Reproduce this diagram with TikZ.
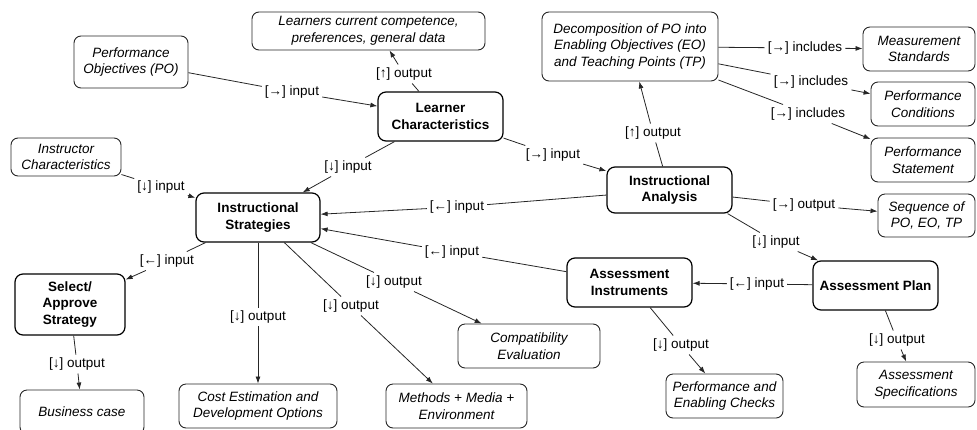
\documentclass[tikz,border=0pt]{standalone}
\usepackage{fontspec}
\setmainfont{Liberation Sans}
\usetikzlibrary{arrows.meta}

\begin{document}
\begin{tikzpicture}[x=1pt,y=-1pt,
  txt/.style={font=\fontsize{13.5}{16.5}\selectfont, align=center},
  mainbox/.style={txt, draw=black, line width=1.2pt, rounded corners=8pt,
    font=\fontsize{13.5}{16.5}\selectfont\bfseries, inner sep=0pt},
  infobox/.style={txt, draw=black!85, line width=0.9pt, rounded corners=7pt,
    font=\fontsize{13.5}{16.5}\selectfont\itshape, inner sep=0pt},
  tag/.style={txt, inner sep=3pt},
  link/.style={draw=black!85, line width=0.8pt},
  arrowlink/.style={link, -{Latex[length=7pt,width=5pt]}},
]
\useasboundingbox (0,0) rectangle (977,429);

% --- process steps ---
\node[mainbox, minimum width=125pt, minimum height=49pt] (lc)  at (440.5,116.5) {Learner\\Characteristics};
\node[mainbox, minimum width=125pt, minimum height=46pt] (ia)  at (669.5,190)   {Instructional\\Analysis};
\node[mainbox, minimum width=124pt, minimum height=49pt] (is)  at (258,217.5)   {Instructional\\Strategies};
\node[mainbox, minimum width=110pt, minimum height=61pt] (sa)  at (70,304.5)    {Select/\\Approve\\Strategy};
\node[mainbox, minimum width=125pt, minimum height=49pt] (ai)  at (629.5,282.5) {Assessment\\Instruments};
\node[mainbox, minimum width=125pt, minimum height=49pt] (ap)  at (875.5,285.5) {Assessment Plan};

% --- inputs and products ---
\node[infobox, minimum width=114pt, minimum height=52pt] (po)  at (131,62)      {Performance\\Objectives (PO)};
\node[infobox, minimum width=233pt, minimum height=38pt] (lcc) at (368.5,31)    {Learners current competence,\\preferences, general data};
\node[infobox, minimum width=176pt, minimum height=69pt] (dec) at (630,46.5)    {Decomposition of PO into\\Enabling Objectives (EO)\\and Teaching Points (TP)};
\node[infobox, minimum width=112pt, minimum height=44pt] (ms)  at (919,49)      {Measurement\\Standards};
\node[infobox, minimum width=104pt, minimum height=44pt] (pc)  at (923,104)     {Performance\\Conditions};
\node[infobox, minimum width=104pt, minimum height=44pt] (pst) at (923,160)     {Performance\\Statement};
\node[infobox, minimum width=97pt,  minimum height=43pt] (seq) at (926.5,215.5) {Sequence of\\PO, EO, TP};
\node[infobox, minimum width=110pt, minimum height=38pt] (ic)  at (66,157)      {Instructor\\Characteristics};
\node[infobox, minimum width=124pt, minimum height=44pt] (bc)  at (82,412)      {Business case};
\node[infobox, minimum width=158pt, minimum height=44pt] (ce)  at (258,406)     {Cost Estimation and\\Development Options};
\node[infobox, minimum width=141pt, minimum height=44pt] (mme) at (456.5,406)   {Methods + Media +\\Environment};
\node[infobox, minimum width=142pt, minimum height=44pt] (cmp) at (529,346)     {Compatibility\\Evaluation};
\node[infobox, minimum width=117pt, minimum height=44pt] (pec) at (724.5,396)   {Performance and\\Enabling Checks};
\node[infobox, minimum width=118pt, minimum height=45pt] (asp) at (916,384.5)   {Assessment\\Specifications};

% --- connector labels ---
\node[tag] (l1)  at (292,92)  {[→] input};
\node[tag] (l2)  at (404,74)  {[↑] output};
\node[tag] (l3)  at (348,167) {[↓] input};
\node[tag] (l4)  at (553,155) {[→] input};
\node[tag] (l5)  at (653,133) {[↑] output};
\node[tag] (l6)  at (805,48)  {[→] includes};
\node[tag] (l7)  at (811,82)  {[→] includes};
\node[tag] (l8)  at (808,114) {[→] includes};
\node[tag] (l9)  at (804,205) {[→] output};
\node[tag] (l10) at (457,207) {[←] input};
\node[tag] (l11) at (776,242) {[↓] input};
\node[tag] (l12) at (757,284) {[←] input};
\node[tag] (l13) at (452,252) {[←] input};
\node[tag] (l14) at (681,345) {[↓] output};
\node[tag] (l15) at (897,340) {[↓] output};
\node[tag] (l16) at (167,261) {[←] input};
\node[tag] (l17) at (77,364)  {[↓] output};
\node[tag] (l18) at (258,317) {[↓] output};
\node[tag] (l19) at (351,306) {[↓] output};
\node[tag] (l20) at (394,282) {[↓] output};
\node[tag] (l21) at (161,187) {[↓] input};

% --- connectors ---
\draw[link] (po) -- (l1);   \draw[arrowlink] (l1) -- (lc);
\draw[link] (lc) -- (l2);   \draw[arrowlink] (l2) -- ([xshift=21pt]lcc.south);
\draw[link] (lc) -- (l3);   \draw[arrowlink] (l3) -- (is);
\draw[link] (lc) -- (l4);   \draw[arrowlink] (l4) -- (ia);
\draw[link] (ia) -- (l5);   \draw[arrowlink] (l5) -- (dec);
\draw[link] (dec) -- (l6);  \draw[arrowlink] (l6) -- (ms);
\draw[link] (dec) -- (l7);  \draw[arrowlink] (l7) -- (pc);
\draw[link] (dec) -- (l8);  \draw[arrowlink] (l8) -- (pst);
\draw[link] (ia) -- (l9);   \draw[arrowlink] (l9) -- (seq);
\draw[link] (ia) -- (l10);  \draw[arrowlink] (l10) -- (is);
\draw[link] ([xshift=-5pt]ia.south east) -- (l11); \draw[arrowlink] (l11) -- (ap);
\draw[link] (ap) -- (l12);  \draw[arrowlink] (l12) -- (ai);
\draw[link] (ai) -- (l13);  \draw[arrowlink] (l13) -- (is);
\draw[link] (ai) -- (l14);  \draw[arrowlink] (l14) -- (pec);
\draw[link] (ap) -- (l15);  \draw[arrowlink] (l15) -- (asp);
\draw[link] (is) -- (l16);  \draw[arrowlink] (l16) -- (sa);
\draw[link] (sa) -- (l17);  \draw[arrowlink] (l17) -- (bc);
\draw[link] (is) -- (l18);  \draw[arrowlink] (l18) -- (ce);
\draw[link] (is) -- (l19);  \draw[arrowlink] (l19) -- (mme);
\draw[link] (is) -- (l20);  \draw[arrowlink] (l20) -- (cmp);
\draw[link] (ic) -- (l21);  \draw[arrowlink] (l21) -- (is);
\end{tikzpicture}
\end{document}
